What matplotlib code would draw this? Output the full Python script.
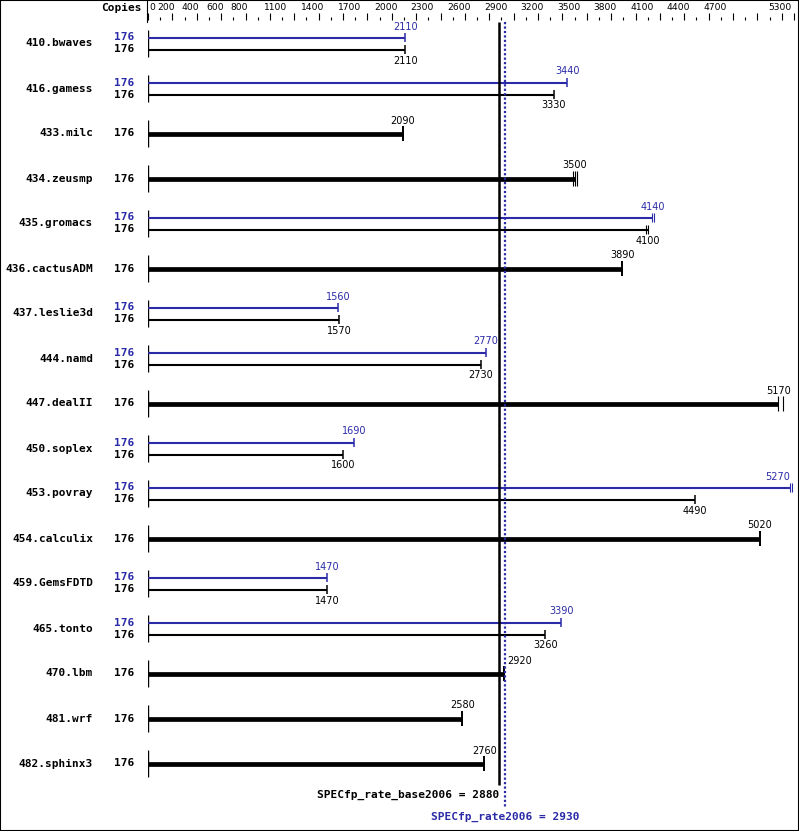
import matplotlib
matplotlib.use('Agg')
import matplotlib.pyplot as plt
import matplotlib.transforms as mtransforms
from matplotlib.patches import Rectangle

# --- colours / fonts ---
BLUE = '#2b2ba8'
BLACK = '#000000'
MONO = 'DejaVu Sans Mono'
SANS = 'DejaVu Sans'

# --- data ---
benchmarks = ['410.bwaves', '416.gamess', '433.milc', '434.zeusmp', '435.gromacs',
              '436.cactusADM', '437.leslie3d', '444.namd', '447.dealII', '450.soplex',
              '453.povray', '454.calculix', '459.GemsFDTD', '465.tonto', '470.lbm',
              '481.wrf', '482.sphinx3']
copies = [176] * len(benchmarks)
peak = [2110, 3440, None, None, 4140, None, 1560, 2770, None, 1690,
        5270, None, 1470, 3390, None, None, None]
base = [2110, 3330, 2090, 3500, 4100, 3890, 1570, 2730, 5170, 1600,
        4490, 5020, 1470, 3260, 2920, 2580, 2760]
# extra run results drawn as additional end marks
base_runs = {'434.zeusmp': [3490, 3505, 3520], '435.gromacs': [4085, 4100],
             '447.dealII': [5170, 5210]}
peak_runs = {'435.gromacs': [4137, 4151], '453.povray': [5270, 5285]}

tick_labels = [0, 200, 400, 600, 800, 1100, 1400, 1700, 2000, 2300, 2600,
               2900, 3200, 3500, 3800, 4100, 4400, 4700, 5300]
base_score = 2880
peak_score = 2930
XMAX = 5300

# --- figure layout (pixels at dpi 100) ---
W, H = 799, 831
fig = plt.figure(figsize=(W / 100, H / 100), dpi=100)
ax_top_px = 20
ax = fig.add_axes([148 / W, 0, 646 / W, (H - ax_top_px) / H])

ROW = 45.0          # pixels per benchmark row
FIRST = 43.5        # pixel centre of first row
ax.set_xlim(0, XMAX)
ax.set_ylim((H - FIRST) / ROW, (ax_top_px - FIRST) / ROW)

for s in ax.spines.values():
    s.set_visible(False)
ax.set_yticks([])
ax.xaxis.set_ticks_position('top')
ax.set_xticks(list(range(0, XMAX, 200)) + [XMAX])
ax.set_xticks(range(0, XMAX + 1, 100), minor=True)
ax.tick_params(axis='x', which='major', length=5, width=0.8, labeltop=False,
               labelbottom=False, top=True, bottom=False)
ax.tick_params(axis='x', which='minor', length=2.2, width=0.8, top=True, bottom=False)

px = 1.0 / ROW
off = 6 * px
thin_cap = 4.5 * px
thick_cap = 7.5 * px

yax = ax.get_yaxis_transform()
name_tr = mtransforms.offset_copy(yax, fig, x=-55, y=0, units='dots')
copy_tr = mtransforms.offset_copy(yax, fig, x=-24, y=0, units='dots')


def value_label(x, y, txt, color, dy):
    ha = 'center'
    dx = 0
    if abs(x - base_score) < 80:
        ha, dx = 'left', 3
    elif x > XMAX - 60:
        ha = 'right'
    ax.annotate(txt, (x, y), xytext=(dx, dy), textcoords='offset pixels',
                ha=ha, va='center', fontsize=7, family=SANS, color=color,
                annotation_clip=False)


def end_marks(runs, y, half, color, lw):
    # several runs -> thin separate marks
    w = lw if len(runs) == 1 else 0.8
    ax.vlines(runs, y - half, y + half, color=color, lw=w)


for i, name in enumerate(benchmarks):
    ax.text(0, i, name, transform=name_tr, ha='right', va='center',
            fontsize=8, family=MONO, fontweight='bold')
    ax.vlines(0, i - 0.3, i + 0.3, color=BLACK, lw=1.0)
    if peak[i] is not None:
        yb, yk = i - off, i + off
        ax.text(0, yb, str(copies[i]), transform=copy_tr, ha='center', va='center',
                fontsize=8, family=MONO, fontweight='bold', color=BLUE)
        ax.text(0, yk, str(copies[i]), transform=copy_tr, ha='center', va='center',
                fontsize=8, family=MONO, fontweight='bold')
        ax.hlines(yb, 0, peak[i], color=BLUE, lw=1.5)
        ax.hlines(yk, 0, base[i], color=BLACK, lw=1.5)
        end_marks(peak_runs.get(name, [peak[i]]), yb, thin_cap, BLUE, 1.1)
        end_marks(base_runs.get(name, [base[i]]), yk, thin_cap, BLACK, 1.1)
        value_label(peak[i], yb, str(peak[i]), BLUE, 11)
        value_label(base[i], yk, str(base[i]), BLACK, -11)
    else:
        ax.text(0, i, str(copies[i]), transform=copy_tr, ha='center', va='center',
                fontsize=8, family=MONO, fontweight='bold')
        ax.hlines(i, 0, base[i], color=BLACK, lw=3.4)
        end_marks(base_runs.get(name, [base[i]]), i, thick_cap, BLACK, 1.4)
        value_label(base[i], i, str(base[i]), BLACK, 13)

# summary lines
top = (ax_top_px + 2 - FIRST) / ROW
ax.vlines(base_score, top, (785 - FIRST) / ROW, color=BLACK, lw=1.8)
ax.vlines(peak_score, top, (808 - FIRST) / ROW, color=BLUE, lw=1.6,
          linestyles=(0, (1, 1)))
ax.text(base_score, (795 - FIRST) / ROW, 'SPECfp_rate_base2006 = %d' % base_score,
        ha='right', va='center', fontsize=8, family=MONO, fontweight='bold')
ax.text(peak_score, (817 - FIRST) / ROW, 'SPECfp_rate2006 = %d' % peak_score,
        ha='center', va='center', fontsize=8, family=MONO, fontweight='bold', color=BLUE)

# header: tick labels and "Copies"
xax = ax.get_xaxis_transform()
lab_y = 1 + 12 / (H - ax_top_px)
for v in tick_labels:
    if v == 0:
        ha, dx = 'left', 1
    elif v == XMAX:
        ha, dx = 'right', -2
    else:
        ha, dx = 'center', -6
    ax.text(v, lab_y, str(v), transform=mtransforms.offset_copy(xax, fig, x=dx, y=0, units='dots'),
            ha=ha, va='center', fontsize=6.6, family=SANS)
ax.text(0, lab_y, 'Copies', transform=mtransforms.offset_copy(xax, fig, x=-6, y=0, units='dots'),
        ha='right', va='center', fontsize=8, family=MONO, fontweight='bold')
ax.plot([0, 0], [1 - 2 / (H - ax_top_px), 1 + ax_top_px / (H - ax_top_px)],
        transform=mtransforms.offset_copy(xax, fig, x=-1, y=0, units='dots'),
        color=BLACK, lw=0.8, clip_on=False)

fig.add_artist(Rectangle((0, 0), 1, 1, transform=fig.transFigure, fill=False,
                         edgecolor=BLACK, lw=1.5))

fig.savefig('out.png', dpi=100)
